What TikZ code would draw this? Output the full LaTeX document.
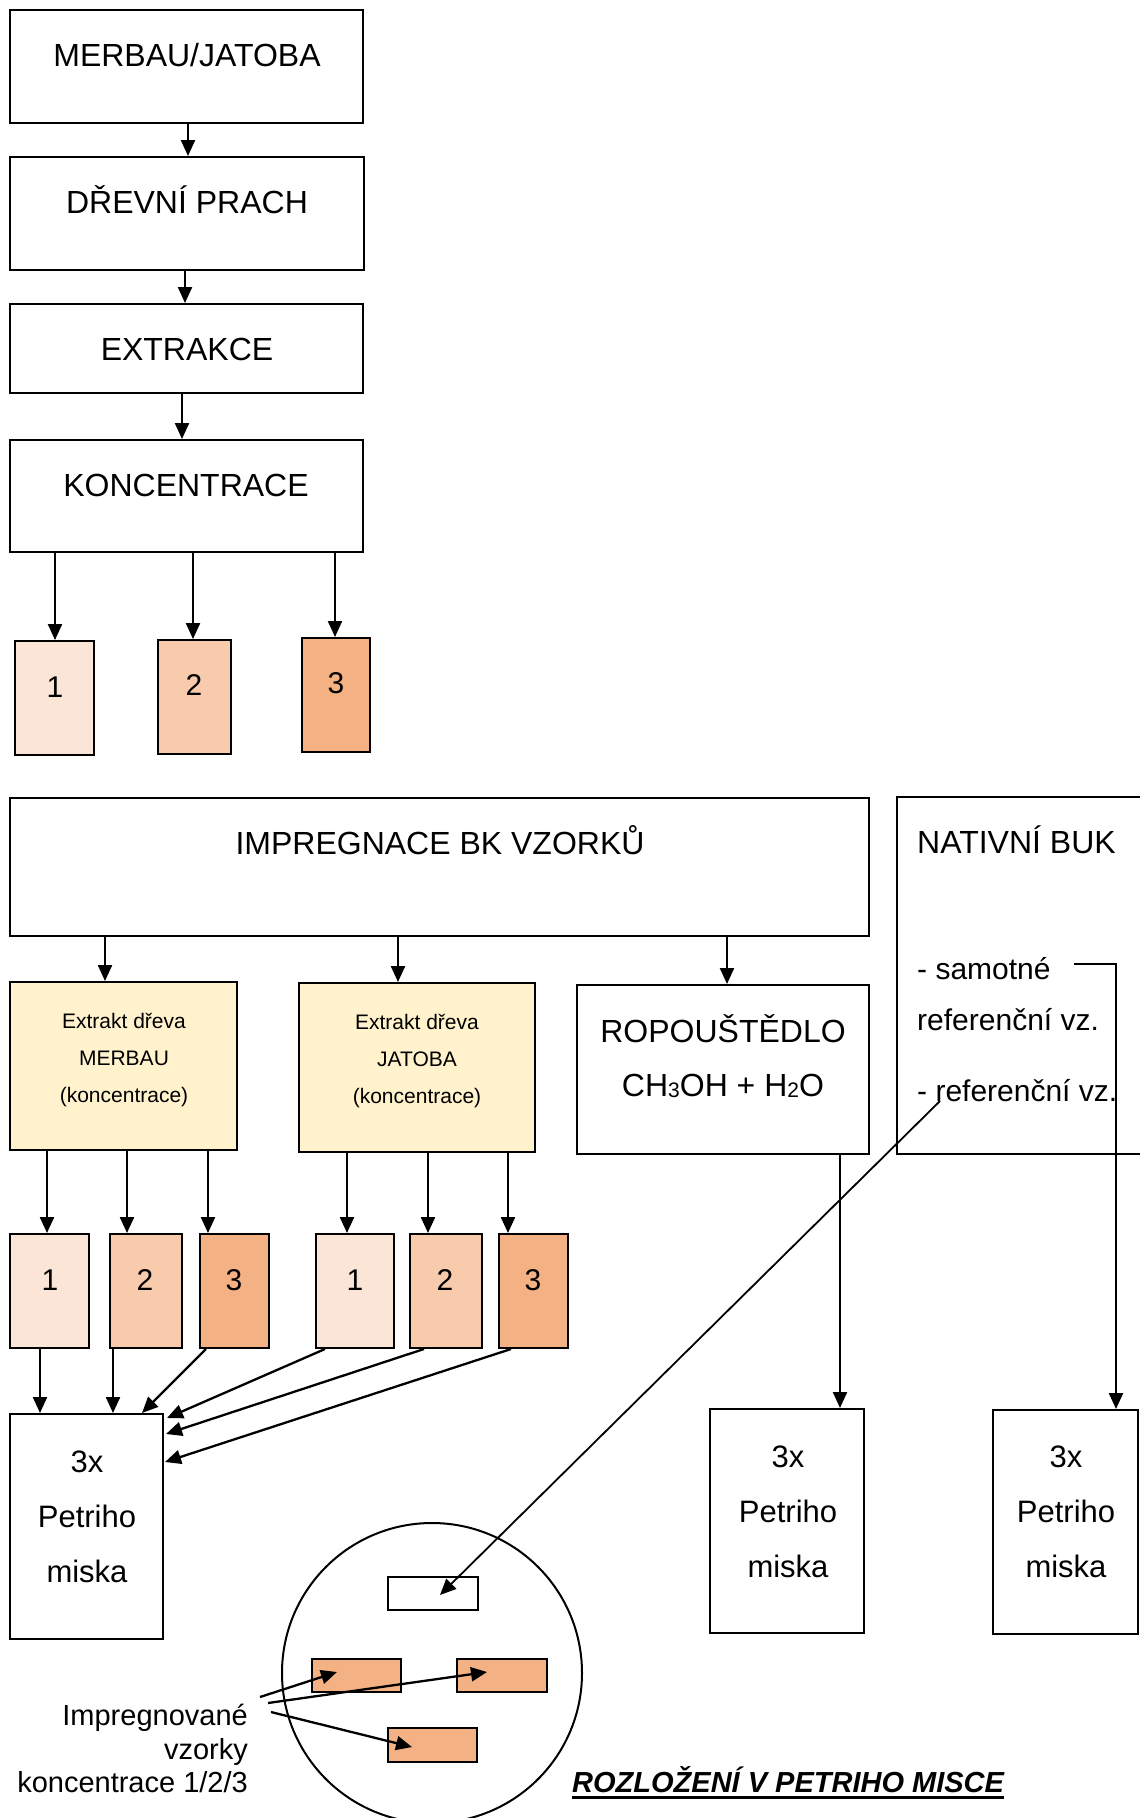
\documentclass[tikz,border=0pt]{standalone}
\usepackage{fontspec}
\setmainfont{Liberation Sans}
\usetikzlibrary{arrows.meta}
\definecolor{cA}{HTML}{FBE5D6}
\definecolor{cB}{HTML}{F8CBAD}
\definecolor{cC}{HTML}{F4B183}
\definecolor{cream}{HTML}{FFF2CC}
\tikzset{
  box/.style={draw=black, line width=2pt, inner sep=0pt, rectangle},
  arr/.style={-{Triangle[length=16pt,width=14pt]}, line width=2.3pt},
  big/.style={inner sep=0pt, text height=23pt, text depth=0pt, font=\fontsize{32}{38}\selectfont},
  mid/.style={inner sep=0pt, text height=21.5pt, text depth=0pt, font=\fontsize{30}{36}\selectfont},
  pet/.style={inner sep=0pt, text height=22.3pt, text depth=0pt, font=\fontsize{31}{37}\selectfont},
  sml/.style={inner sep=0pt, text height=15pt, text depth=0pt, font=\fontsize{21}{25}\selectfont},
  lab/.style={inner sep=0pt, text height=20.9pt, text depth=0pt, font=\fontsize{29}{34}\selectfont},
  ttl/.style={inner sep=0pt, text height=20.9pt, text depth=0pt, font=\fontsize{29}{34}\selectfont\bfseries\itshape},
}
\newcommand\mkbox[6]{%
  \pgfmathsetmacro\mkBxc{(#2+#4)/2}\pgfmathsetmacro\mkByc{(#3+#5)/2}%
  \pgfmathsetmacro\mkBw{#4-#2}\pgfmathsetmacro\mkBh{#5-#3}%
  \node[box,#6,minimum width=\mkBw pt,minimum height=\mkBh pt] (#1) at (\mkBxc,\mkByc) {};}
\newcommand\subd[1]{\raisebox{-1pt}{\fontsize{21}{21}\selectfont #1}}
\begin{document}
\begin{tikzpicture}[x=1pt,y=-1pt]
\path[use as bounding box] (0,0) rectangle (1140,1818);
\clip (0,0) rectangle (1140,1818);
\fill[white] (0,0) rectangle (1140,1818);

% ---------- top chain ----------
\mkbox{merbau}{10}{10}{363}{123}{}
\mkbox{drevni}{10}{157}{364}{270}{}
\mkbox{extr}{10}{304}{363}{393}{}
\mkbox{konc}{10}{440}{363}{552}{}
\mkbox{kA}{15}{641}{94}{755}{fill=cA}
\mkbox{kB}{158}{640}{231}{754}{fill=cB}
\mkbox{kC}{302}{638}{370}{752}{fill=cC}

\node[big] (tMerbau) at (187,55) {MERBAU/JATOBA};
\node[big] (tDrevni) at (187,202) {DŘEVNÍ PRACH};
\node[big] (tExtr) at (187,349) {EXTRAKCE};
\node[big] (tKonc) at (186,485) {KONCENTRACE};
\node[mid] (nkA) at (55,687) {1};
\node[mid] (nkB) at (194,685) {2};
\node[mid] (nkC) at (336,683) {3};

\draw[arr] ([xshift=179pt]merbau.south west) -- ([xshift=179pt]drevni.north west);
\draw[arr] ([xshift=176pt]drevni.south west) -- ([xshift=176pt]extr.north west);
\draw[arr] ([xshift=173pt]extr.south west) -- ([xshift=173pt]konc.north west);
\draw[arr] ([xshift=46pt]konc.south west) -- ([xshift=41pt]kA.north west);
\draw[arr] ([xshift=184pt]konc.south west) -- ([xshift=36pt]kB.north west);
\draw[arr] ([xshift=326pt]konc.south west) -- ([xshift=34pt]kC.north west);

% ---------- middle ----------
\mkbox{impreg}{10}{798}{869}{936}{}
\mkbox{nativ}{897}{797}{1152}{1154}{}
\mkbox{extM}{10}{982}{237}{1150}{fill=cream}
\mkbox{extJ}{299}{983}{535}{1152}{fill=cream}
\mkbox{ropo}{577}{985}{869}{1154}{}

\node[big] (tImp) at (440,843) {IMPREGNACE BK VZORKŮ};
\node[big, anchor=west] (tNat) at (917,842) {NATIVNÍ BUK};
\node[mid, anchor=west] (tSam) at (917,969) {- samotné};
\node[mid, anchor=west] (tRef1) at (917,1020) {referenční vz.};
\node[mid, anchor=west] (tRef2) at (917,1091) {- referenční vz.};

\node[sml] (tM1) at (124,1021) {Extrakt dřeva};
\node[sml] (tM2) at (124,1058) {MERBAU};
\node[sml] (tM3) at (124,1095) {(koncentrace)};
\node[sml] (tJ1) at (417,1022) {Extrakt dřeva};
\node[sml] (tJ2) at (417,1059) {JATOBA};
\node[sml] (tJ3) at (417,1096) {(koncentrace)};
\node[big] (tRopo1) at (723,1031) {ROPOUŠTĚDLO};
\node[big] (tRopo2) at (723,1085) {CH\subd{3}OH + H\subd{2}O};

\draw[arr] ([xshift=96pt]impreg.south west) -- ([xshift=96pt]extM.north west);
\draw[arr] ([xshift=389pt]impreg.south west) -- ([xshift=100pt]extJ.north west);
\draw[arr] ([xshift=718pt]impreg.south west) -- ([xshift=151pt]ropo.north west);

% ---------- second row of small boxes ----------
\mkbox{mA}{10}{1234}{89}{1348}{fill=cA}
\mkbox{mB}{110}{1234}{182}{1348}{fill=cB}
\mkbox{mC}{200}{1234}{269}{1348}{fill=cC}
\mkbox{jA}{316}{1234}{394}{1348}{fill=cA}
\mkbox{jB}{410}{1234}{482}{1348}{fill=cB}
\mkbox{jC}{499}{1234}{568}{1348}{fill=cC}
\node[mid] (nmA) at (50,1280) {1};
\node[mid] (nmB) at (145,1280) {2};
\node[mid] (nmC) at (234,1280) {3};
\node[mid] (njA) at (355,1280) {1};
\node[mid] (njB) at (445,1280) {2};
\node[mid] (njC) at (533,1280) {3};

\draw[arr] ([xshift=38pt]extM.south west) -- ([xshift=38pt]mA.north west);
\draw[arr] ([xshift=118pt]extM.south west) -- ([xshift=18pt]mB.north west);
\draw[arr] ([xshift=199pt]extM.south west) -- ([xshift=9pt]mC.north west);
\draw[arr] ([xshift=49pt]extJ.south west) -- ([xshift=32pt]jA.north west);
\draw[arr] ([xshift=130pt]extJ.south west) -- ([xshift=19pt]jB.north west);
\draw[arr] ([xshift=210pt]extJ.south west) -- ([xshift=10pt]jC.north west);

% ---------- Petri dishes ----------
\mkbox{petL}{10}{1414}{163}{1639}{}
\mkbox{petM}{710}{1409}{864}{1633}{}
\mkbox{petR}{993}{1410}{1138}{1634}{}
\node[pet] (pL1) at (87,1461) {3x};
\node[pet] (pL2) at (87,1516) {Petriho};
\node[pet] (pL3) at (87,1571) {miska};
\node[pet] (pM1) at (788,1456) {3x};
\node[pet] (pM2) at (788,1511) {Petriho};
\node[pet] (pM3) at (788,1566) {miska};
\node[pet] (pR1) at (1066,1456) {3x};
\node[pet] (pR2) at (1066,1511) {Petriho};
\node[pet] (pR3) at (1066,1566) {miska};

\draw[arr] ([xshift=31pt]mA.south west) -- ([xshift=31pt]petL.north west);
\draw[arr] ([xshift=4pt]mB.south west) -- ([xshift=104pt]petL.north west);
\draw[arr] ([xshift=7pt]mC.south west) -- ([xshift=133pt]petL.north west);
\draw[arr] ([xshift=10pt]jA.south west) -- ([xshift=3pt,yshift=-5pt]petL.north east);
\draw[arr] ([xshift=15pt]jB.south west) -- ([xshift=2pt,yshift=-21pt]petL.north east);
\draw[arr] ([xshift=13pt]jC.south west) -- ([xshift=1pt,yshift=-49pt]petL.north east);

\draw[arr] ([xshift=264pt]ropo.south west) -- ([xshift=131pt]petM.north west);
\coordinate (samEnd) at (1074,964);
\draw[arr] (samEnd) -| ([xshift=124pt]petR.north west);

% ---------- dish layout ----------
\node[draw, circle, line width=2pt, minimum size=300pt, inner sep=0pt] (dish) at (432,1673) {};
\mkbox{wR}{388}{1577}{478}{1610}{fill=white}
\mkbox{sA}{312}{1659}{401}{1692}{fill=cC}
\mkbox{sB}{457}{1659}{547}{1692}{fill=cC}
\mkbox{sC}{388}{1728}{477}{1762}{fill=cC}

\draw[arr, line width=1.8pt] ([xshift=23pt,yshift=-10pt]tRef2.west) -- ([xshift=7pt,yshift=-1.5pt]wR.center);

\node[lab, anchor=east] (lab1) at (248,1715) {Impregnované};
\node[lab, anchor=east] (lab2) at (248,1749) {vzorky};
\node[lab, anchor=east] (lab3) at (248,1782) {koncentrace 1/2/3};
\coordinate (l1) at (260,1697);
\coordinate (l2) at (268,1703);
\coordinate (l3) at (271,1712);
\draw[arr] (l1) -- ([xshift=-19.5pt,yshift=3.5pt]sA.center);
\draw[arr] (l2) -- ([xshift=-15pt,yshift=3.5pt]sB.center);
\draw[arr] (l3) -- ([xshift=-20.5pt,yshift=-2pt]sC.center);

\node[ttl, anchor=west] (title) at (572,1782) {ROZLOŽENÍ V PETRIHO MISCE};
\draw[line width=3pt] ([yshift=-4.5pt]title.south west) -- ([yshift=-4.5pt]title.south east);
\end{tikzpicture}
\end{document}
